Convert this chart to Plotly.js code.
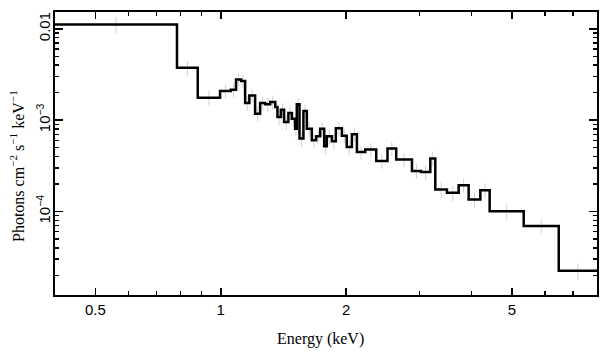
<!DOCTYPE html>
<html>
<head>
<meta charset="utf-8">
<script src="https://cdn.plot.ly/plotly-3.0.1.min.js"></script>
<style>
html,body{margin:0;padding:0;background:#fff;}
#chart{width:609px;height:357px;}
</style>
</head>
<body>
<div id="chart"></div>
<script>
// Bin edges (keV)
const binEdges = [0.40, 0.785, 0.8805, 0.996, 1.057, 1.088, 1.119, 1.144, 1.171, 1.209,
  1.243, 1.278, 1.314, 1.351, 1.368, 1.394, 1.419, 1.453, 1.481, 1.508,
  1.522, 1.545, 1.579, 1.609, 1.654, 1.694, 1.732, 1.771, 1.797, 1.848,
  1.889, 1.953, 2.006, 2.064, 2.122, 2.222, 2.361, 2.513, 2.637, 2.877,
  3.024, 3.184, 3.273, 3.49, 3.724, 3.935, 4.198, 4.42, 5.335, 6.475, 8.0];
// Flux per bin (photons cm^-2 s^-1 keV^-1)
const fluxValues = [0.01114, 3.75e-3, 1.762e-3, 2.080e-3, 2.154e-3, 2.792e-3, 2.675e-3, 1.538e-3, 1.866e-3, 1.178e-3,
  1.538e-3, 1.488e-3, 1.577e-3, 1.390e-3, 1.081e-3, 1.302e-3, 9.53e-4, 1.196e-3, 1.038e-3, 8.07e-4,
  1.488e-3, 6.28e-4, 1.257e-3, 8.07e-4, 6.01e-4, 6.65e-4, 8.07e-4, 5.17e-4, 6.65e-4, 5.86e-4,
  8.14e-4, 6.74e-4, 5.08e-4, 6.99e-4, 4.48e-4, 4.76e-4, 3.57e-4, 4.88e-4, 3.70e-4, 2.78e-4,
  2.71e-4, 3.80e-4, 1.74e-4, 1.60e-4, 1.94e-4, 1.35e-4, 1.71e-4, 1.007e-4, 6.91e-5, 2.24e-5];
// 1-sigma errors per bin
const fluxErrors = [0.0023, 7.0e-4, 3.3e-4, 3.6e-4, 3.8e-4, 4.6e-4, 4.4e-4, 2.8e-4, 3.2e-4, 2.2e-4,
  2.7e-4, 2.6e-4, 2.8e-4, 2.5e-4, 2.0e-4, 2.3e-4, 1.8e-4, 2.1e-4, 1.9e-4, 1.5e-4,
  2.6e-4, 1.2e-4, 2.2e-4, 1.5e-4, 1.1e-4, 1.2e-4, 1.45e-4, 1.0e-4, 1.2e-4, 1.1e-4,
  1.4e-4, 1.2e-4, 9.5e-5, 1.25e-4, 8.0e-5, 8.5e-5, 6.5e-5, 8.5e-5, 6.5e-5, 5.0e-5,
  5.0e-5, 6.8e-5, 3.3e-5, 3.0e-5, 3.5e-5, 2.6e-5, 3.2e-5, 1.9e-5, 1.3e-5, 4.5e-6];
// Tick labels
const xTickVals = [0.5, 1, 2, 5];
const xTickText = ['0.5', '1', '2', '5'];
const xMinorVals = [0.6, 0.7, 0.8, 0.9, 3, 4, 6, 7, 8];
const yTickVals = [1e-4, 1e-3, 1e-2];
const yTickText = ['10<sup>\u22124</sup>', '10<sup>\u22123</sup>', '0.01'];
const xTitle = 'Energy (keV)';
const yTitle = 'Photons cm<sup>\u22122</sup> s<sup>\u22121</sup> keV<sup>\u22121</sup>';

const yMinorVals = [];
[1e-5, 1e-4, 1e-3, 1e-2].forEach(d => { for (let k = 2; k <= 9; k++) yMinorVals.push(d * k); });

// step line
const stepX = binEdges.slice();
const stepY = fluxValues.concat([fluxValues[fluxValues.length - 1]]);
// bin centres (log mean of edges)
const centers = fluxValues.map((v, i) => Math.sqrt(binEdges[i] * binEdges[i + 1]));

const traces = [
  {
    x: centers, y: fluxValues, type: 'scatter', mode: 'markers',
    marker: {size: 1, color: 'rgba(0,0,0,0)'},
    error_y: {type: 'data', array: fluxErrors, visible: true, color: '#d2d2d2', thickness: 1, width: 0},
    hoverinfo: 'skip', showlegend: false
  },
  {
    x: stepX, y: stepY, type: 'scatter', mode: 'lines',
    line: {shape: 'hv', color: '#000', width: 2.5},
    showlegend: false
  }
];

const W = 609, H = 357, mL = 55, mR = 12, mT = 12, mB = 62;
const plotW = W - mL - mR, plotH = H - mT - mB;

const layout = {
  width: W, height: H,
  margin: {l: mL, r: mR, t: mT, b: mB},
  paper_bgcolor: '#fff', plot_bgcolor: '#fff',
  showlegend: false,
  xaxis: {
    type: 'log', range: [Math.log10(0.4), Math.log10(8.0)],
    showline: true, linecolor: '#000', linewidth: 2, mirror: 'allticks',
    ticks: 'inside', ticklen: 7, tickwidth: 1.5, tickcolor: '#000',
    tickmode: 'array', tickvals: xTickVals, ticktext: xTickText,
    minor: {tickmode: 'array', tickvals: xMinorVals, ticks: 'inside', ticklen: 4, tickwidth: 1.5, tickcolor: '#000', showgrid: false},
    showgrid: false, zeroline: false,
    tickfont: {family: 'Liberation Sans, Arial, sans-serif', size: 15, color: '#000'}
  },
  yaxis: {
    type: 'log', range: [-4.915, -1.816],
    showline: true, linecolor: '#000', linewidth: 2, mirror: 'allticks',
    ticks: 'inside', ticklen: 8, tickwidth: 1.5, tickcolor: '#000',
    tickmode: 'array', tickvals: yTickVals, ticktext: yTickText, tickangle: -90,
    ticklabelstandoff: -3,
    minor: {tickmode: 'array', tickvals: yMinorVals, ticks: 'inside', ticklen: 4, tickwidth: 1.5, tickcolor: '#000', showgrid: false},
    showgrid: false, zeroline: false,
    tickfont: {family: 'Liberation Sans, Arial, sans-serif', size: 15, color: '#000'}
  },
  annotations: [
    {
      text: yTitle, textangle: -90, showarrow: false,
      xref: 'paper', yref: 'paper', xanchor: 'center', yanchor: 'middle',
      x: (17 - mL) / plotW, y: (H - mB - 166) / plotH,
      font: {family: 'Liberation Serif, Times New Roman, serif', size: 16, color: '#000'}
    },
    {
      text: xTitle, showarrow: false,
      xref: 'paper', yref: 'paper', xanchor: 'center', yanchor: 'middle',
      x: (320 - mL) / plotW, y: (H - mB - 339) / plotH,
      font: {family: 'Liberation Serif, Times New Roman, serif', size: 16, color: '#000'}
    }
  ]
};

Plotly.newPlot('chart', traces, layout, {displayModeBar: false, staticPlot: true});
</script>
</body>
</html>
